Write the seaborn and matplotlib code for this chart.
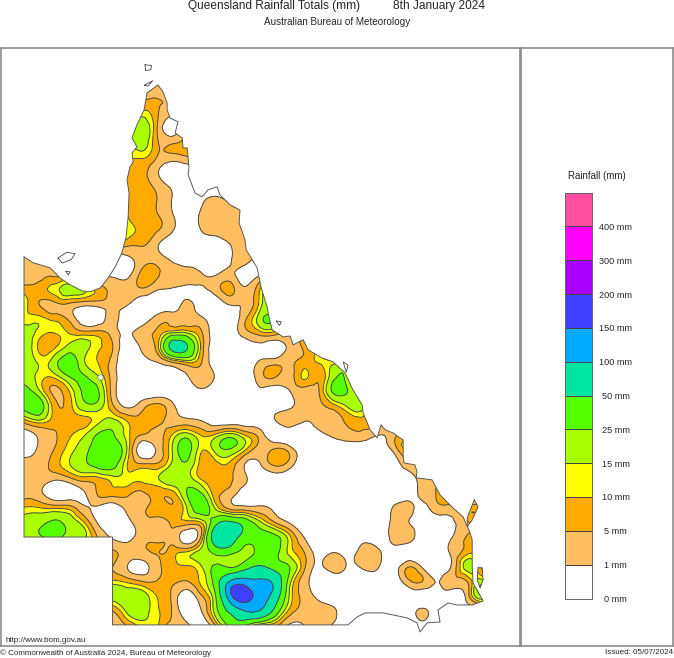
import numpy as np
import seaborn as sns
import matplotlib.pyplot as plt
import matplotlib.tri as mtri
from matplotlib.colors import ListedColormap
from matplotlib.path import Path
from matplotlib.patches import PathPatch

sns.set_style('white')
plt.rcParams['font.family'] = ['Liberation Sans', 'DejaVu Sans']

# rainfall classes
levels = [0, 1, 5, 10, 15, 25, 50, 100, 150, 200, 300, 400, 500]
colours = ['#ffffff', '#ffbe5f', '#ffaa00', '#ffff00', '#aaff00', '#55ff00',
           '#00e6a0', '#00aaff', '#3f3fff', '#aa00ff', '#ff00ff', '#ff4f9f']
legend_labels = ['400 mm', '300 mm', '200 mm', '150 mm', '100 mm', '50 mm', '25 mm',
                 '15 mm', '10 mm', '5 mm', '1 mm', '0 mm']

# grid of the analysis, half degree
grid_lon = [137.5 + 0.5 * i for i in range(34)]
grid_lat = [-10 - 0.5 * j for j in range(39)]

# mm, north to south, missing columns on the right are dry
rain_rows = [
    [0],
    [0, 0, 0, 0, 0, 0, 0, 0, 0, 2.5, 2.5, 2.5],
    [0, 0, 0, 0, 0, 0, 0, 0, 3, 4.5, 5, 4.5, 3],
    [0, 0, 0, 0, 0, 0, 0, 12, 12, 12, 6, 2, 2],
    [0, 0, 0, 0, 0, 0, 0, 20, 20, 20, 5.5, 0, 3, 3],
    [0, 0, 0, 0, 0, 0, 0, 20, 20, 20, 6, 4, 7, 7],
    [0, 0, 0, 0, 0, 0, 0, 12, 12, 11, 5, 3, 4.5, 3],
    [0, 0, 0, 0, 0, 0, 0, 7, 7, 6, 1.5],
    [0, 0, 0, 0, 0, 0, 0, 7, 7, 7, 3.5, 0.6],
    [0, 0, 0, 0, 0, 0, 0, 8, 8, 8, 5, 1, 0, 0.5, 2, 0.5],
    [0, 0, 0, 0, 0, 0, 0, 10, 10, 8, 5.5, 1.5, 0, 1.5, 3, 3, 3, 3],
    [0, 0, 0, 0, 0, 0, 0, 13, 13, 9, 5.5, 1.5, 0, 1, 2.5, 3, 3, 3],
    [0, 0, 0, 0, 0, 0, 0, 6, 6, 5.5, 1.5, 0, 0, 0, 0, 1, 3, 3],
    [3, 3, 3, 3, 3, 0, 0, 0, 0.3, 3, 3, 0.6, 0, 0, 0, 0.8, 3],
    [3, 3, 3, 4, 4, 3, 1, 0.3, 0.3, 7, 6, 3, 3, 1.2, 0.8, 2, 0, 0.5],
    [7, 7, 7, 12, 20, 18, 8, 4, 3, 4.5, 1.5, 0.8, 0.5, 0.5, 3, 7, 1.5, 10, 10],
    [12, 12, 5, 4, 5, 3, 3, 3, 1.5, 0, 0, 0, 1.7, 0, 0, 1.5, 1.5, 12, 12],
    [12, 12, 12, 8, 4, 0, 0, 2, 0, 0, 2, 3, 3, 1.5, 0, 0, 4, 20, 20],
    [20, 20, 13, 10, 10, 7, 7, 3, 0.5, 3, 6, 15, 15, 6, 0, 0, 3, 8, 8, 2, 3],
    [22, 22, 9, 9, 18, 20, 11, 5.2, 0, 1.5, 7, 60, 55, 9, 0, 0, 0, 0.3, 0, 2, 5.5, 5.5],
    [22, 22, 14, 19, 35, 17, 10, 3, 0, 0.3, 1, 5, 10.5, 5.5, 0, 0, 0, 1.5, 3, 4, 7, 10.5, 12, 12],
    [20, 20, 13, 11, 24, 27, 16, 3, 0, 0, 0, 0, 0.7, 3, 0.7, 0, 0, 3, 5.5, 3, 11, 6, 22, 18],
    [32, 32, 17, 4, 9, 27, 27, 3, 0, 0, 0, 0, 0, 0.5, 0, 0, 0, 0.5, 0, 0.9, 3, 5, 28, 24, 10],
    [32, 32, 35, 8, 7, 20, 20, 6, 0.5, 3, 7, 2, 0, 0, 0, 0, 0, 0, 0, 0.5, 3, 4, 8, 17, 17],
    [8, 8, 14, 8, 7, 8, 13, 17, 9.5, 7, 7, 3, 2, 1, 0, 0, 0, 0, 0.8, 3, 1.2, 3, 3.5, 6, 8, 3],
    [0, 0, 1.5, 4, 9, 14, 27, 27, 12, 4.5, 3.5, 10, 20, 10, 12, 20, 10, 3, 0, 0, 0, 0.3, 1.5, 3, 3, 1, 3, 5],
    [0, 0, 1.5, 5, 12, 20, 35, 35, 14, 0, 1.5, 14, 32, 11, 18, 23, 10, 3, 6, 3, 0, 0, 0, 0, 0, 0, 1.5, 9],
    [3, 3, 3, 7, 14, 22, 32, 32, 10, 6, 6, 16, 22, 8, 8, 8, 0.8, 0.8, 6, 2.5, 0, 0, 0, 0, 0, 0, 0, 3, 1],
    [3, 3, 3, 1.5, 3, 7, 8, 12, 12, 12, 14, 22, 20, 10, 7, 5.5, 1.5, 0, 0, 0, 0, 0, 0, 0, 0, 0, 0, 0, 3, 3],
    [3, 3, 2, 0, 0, 0.5, 5.5, 7, 6, 4, 6, 7, 24, 27, 7, 2.5, 0, 0, 0, 0, 0, 0, 0, 0, 0, 0, 0, 0, 2, 5.5, 5.5],
    [11, 11, 11, 10, 9, 2, 0.5, 0, 2, 4, 7, 6, 14, 35, 14, 4, 3, 2, 0.5, 0, 0, 0, 0, 0, 0, 0, 1.2, 2.5, 0.3, 3, 3, 7, 7],
    [20, 20, 22, 28, 22, 12, 0.9, 0, 0.2, 3, 3, 6, 7, 9, 42, 60, 38, 18, 6, 1, 0, 0, 0, 0, 0, 0, 1.5, 1.2, 0, 0, 0.6, 4, 5],
    [20, 20, 22, 28, 20, 17, 5, 0.8, 0.3, 3, 4, 4, 0, 6, 75, 75, 35, 30, 30, 12, 1, 0, 0, 0, 0.3, 0, 2.5, 3, 0, 0, 1, 5.5, 5],
    [6, 6, 6, 6, 6, 6, 6, 6, 3, 3.5, 5.2, 7, 11, 18, 30, 30, 21, 30, 30, 13, 5, 0.3, 1, 0.3, 2.8, 2, 0, 0, 0, 0, 1.5, 8, 8],
    [5, 5, 5, 5, 5, 5, 5, 5, 1, 0.2, 3.5, 8, 9, 14, 28, 24, 40, 55, 40, 25, 6, 0.6, 2.2, 0.7, 1.5, 1.2, 0, 4.8, 0.8, 0, 1.5, 18, 5],
    [12, 12, 12, 12, 12, 12, 12, 12, 9, 5.5, 5.3, 6, 4.5, 11, 35, 110, 125, 110, 85, 18, 2.5, 0, 0, 0, 0, 0, 0, 3, 4.8, 0.9, 3, 4.5, 20],
    [20, 20, 20, 20, 20, 20, 20, 20, 20, 20, 10, 4.5, 0, 4, 25, 135, 170, 130, 75, 14, 3.5, 0.3, 0, 0, 0, 0, 0, 0, 0, 0, 0, 2, 22],
    [5, 5, 5, 5, 5, 5, 5, 5, 17, 20, 11, 5, 0, 0.8, 20, 60, 100, 95, 40, 8, 3.5, 3, 1.5, 0, 0, 0, 0, 0, 1.8],
    [3, 3, 3, 3, 3, 3, 3, 3, 5, 12, 11, 3, 2, 0, 5, 30, 25, 8, 6, 0.5, 1, 3, 0.5],
]

# state outline
coast_lon = [138.00, 138.31, 138.88, 139.12, 139.22, 139.56, 139.97, 140.24, 140.58, 140.85, 141.09, 141.32,
             141.36, 141.46, 141.53, 141.56, 141.49, 141.59, 141.70, 141.66, 141.83, 141.66, 141.83, 142.07,
             142.17, 142.41, 142.54, 142.71, 142.85, 142.85, 142.95, 143.22, 143.12, 143.36, 143.39, 143.53,
             143.59, 143.56, 143.80, 144.03, 144.24, 144.54, 144.64, 144.98, 145.32, 145.29, 145.49, 145.53,
             145.90, 146.03, 146.24, 146.31, 146.41, 146.78, 147.02, 147.12, 147.46, 147.63, 148.10, 148.47,
             148.88, 149.15, 149.46, 149.49, 149.73, 149.97, 150.10, 150.24, 150.51, 150.85, 150.85, 150.88,
             151.25, 151.32, 151.29, 151.83, 152.10, 152.54, 152.88, 153.12, 153.19, 153.19, 153.22, 153.56,
             153.19, 152.68, 152.37, 152.03, 152.10, 151.66, 151.42, 151.32, 150.98, 150.17, 149.56, 149.29,
             148.98, 141.00, 141.00, 138.00, 138.00]
coast_lat = [-16.41, -16.61, -16.78, -17.02, -17.13, -17.36, -17.57, -17.60, -17.47, -17.13, -16.75, -16.27,
             -16.10, -15.73, -15.04, -14.23, -13.78, -13.34, -13.17, -12.86, -12.66, -12.35, -11.90, -11.39,
             -10.81, -10.64, -10.54, -10.78, -11.15, -11.39, -11.67, -11.80, -12.18, -12.35, -12.69, -12.69,
             -13.34, -13.61, -14.23, -14.36, -14.12, -14.02, -14.29, -14.63, -14.81, -15.25, -15.83, -16.17,
             -16.78, -17.43, -18.12, -18.49, -18.90, -19.14, -19.11, -19.41, -19.24, -19.58, -19.86, -19.99,
             -20.37, -20.95, -21.46, -21.73, -22.31, -22.59, -22.14, -22.31, -22.42, -22.66, -23.24, -23.44,
             -23.51, -23.75, -23.95, -24.02, -24.53, -24.98, -25.28, -25.83, -26.07, -27.00, -27.54, -28.15,
             -28.29, -28.29, -28.22, -28.46, -28.87, -28.90, -29.21, -28.90, -28.73, -28.56, -28.56, -28.70,
             -28.97, -28.97, -25.97, -25.97, -16.41]

# islands
island_lons = [[153.26, 153.39, 153.19, 153.02, 153.02, 153.26],
               [153.39, 153.53, 153.56, 153.46, 153.36, 153.39],
               [139.15, 139.45, 139.73, 139.60, 139.30, 139.15],
               [139.42, 139.56, 139.50, 139.42],
               [142.10, 142.32, 142.30, 142.12, 142.10],
               [142.08, 142.36, 142.20, 142.08],
               [146.55, 146.72, 146.66, 146.55],
               [148.82, 148.98, 148.92, 148.82]]
island_lats = [[-24.70, -24.94, -25.39, -25.62, -25.32, -24.70],
               [-27.02, -27.02, -27.43, -27.71, -27.43, -27.02],
               [-16.45, -16.25, -16.30, -16.50, -16.62, -16.45],
               [-16.90, -16.92, -17.02, -16.90],
               [-9.85, -9.88, -10.02, -10.05, -9.85],
               [-10.55, -10.40, -10.58, -10.55],
               [-18.60, -18.62, -18.75, -18.60],
               [-20.00, -20.10, -20.35, -20.00]]

# gap in the analysis south of Cloncurry
dot_lon = [140.58]
dot_lat = [-20.50]


def px_x(x):
    return x / 674


def px_y(y):
    return 1 - y / 658


rain = np.array([r + [0] * (len(grid_lon) - len(r)) for r in rain_rows], dtype=float)

fig = plt.figure(figsize=(6.74, 6.58), dpi=100)

ax = fig.add_axes([px_x(1), px_y(646), px_x(519), 598 / 658])

# smooth contours, matplotlib's refiner on the read grid, on a sqrt scale to keep it from ringing
lon2d, lat2d = np.meshgrid(grid_lon, grid_lat)
tri = mtri.Triangulation(lon2d.ravel(), lat2d.ravel())
fine_tri, fine_root = mtri.UniformTriRefiner(tri).refine_field(np.sqrt(rain.ravel()), subdiv=3)
root_levels = np.sqrt(levels)
filled = ax.tricontourf(fine_tri, fine_root, levels=root_levels, colors=colours, extend='min')
filled.cmap.set_under('white')
lines = ax.tricontour(fine_tri, fine_root, levels=root_levels[1:], colors='#4a4a4a', linewidths=0.7)

verts = list(zip(coast_lon, coast_lat))
codes = [Path.MOVETO] + [Path.LINETO] * (len(verts) - 2) + [Path.CLOSEPOLY]
for lo, la in zip(island_lons[:2], island_lats[:2]):
    verts += list(zip(lo, la))
    codes += [Path.MOVETO] + [Path.LINETO] * (len(lo) - 2) + [Path.CLOSEPOLY]
clip = PathPatch(Path(verts, codes), transform=ax.transData, facecolor='none', edgecolor='none')
ax.add_patch(clip)
filled.set_clip_path(clip)
lines.set_clip_path(clip)

sns.lineplot(x=coast_lon, y=coast_lat, sort=False, estimator=None, color='#5a5a5a', linewidth=0.7, ax=ax)
for lo, la in zip(island_lons, island_lats):
    sns.lineplot(x=lo, y=la, sort=False, estimator=None, color='#444444', linewidth=0.6, ax=ax)
sns.scatterplot(x=dot_lon, y=dot_lat, s=16, color='white', edgecolor='#777777', linewidth=0.6, ax=ax, zorder=5)

ax.set_xlim(137.22, 154.81)
ax.set_ylim(-29.69, -9.28)
ax.set_xticks([])
ax.set_yticks([])
for s in ax.spines.values():
    s.set_color('#8c8c8c')
    s.set_linewidth(1.2)

# legend panel
panel = fig.add_axes([px_x(521), px_y(646), px_x(152), 598 / 658])
panel.set_xticks([])
panel.set_yticks([])
for s in panel.spines.values():
    s.set_color('#8c8c8c')
    s.set_linewidth(1.2)

bar = fig.add_axes([px_x(565), px_y(598.5), px_x(27), 406 / 658])
sns.heatmap(np.arange(len(colours))[::-1].reshape(-1, 1), cmap=ListedColormap(colours), cbar=False,
            linewidths=0.5, linecolor='#444444', xticklabels=False, ax=bar)
bar.yaxis.tick_right()
bar.set_yticks(np.arange(1, len(colours) + 1))
bar.set_yticklabels(legend_labels, rotation=0, ha='center', fontsize=6.6)
bar.tick_params(axis='y', length=0, pad=17)
for s in bar.spines.values():
    s.set_visible(True)
    s.set_color('#666666')
    s.set_linewidth(0.7)

fig.text(px_x(597), px_y(176), 'Rainfall (mm)', ha='center', va='center', fontsize=7)
fig.text(px_x(188), px_y(5.5), 'Queensland Rainfall Totals (mm)', ha='left', va='center', fontsize=8.6)
fig.text(px_x(393), px_y(5.5), '8th January 2024', ha='left', va='center', fontsize=8.6)
fig.text(px_x(337), px_y(22), 'Australian Bureau of Meteorology', ha='center', va='center', fontsize=7.1)
fig.text(px_x(5), px_y(640), 'http://www.bom.gov.au', ha='left', va='center', fontsize=5.8)
fig.text(px_x(0), px_y(653), '\u00a9 Commonwealth of Australia 2024, Bureau of Meteorology', ha='left', va='center', fontsize=5.8)
fig.text(px_x(673), px_y(653), 'Issued: 05/07/2024', ha='right', va='center', fontsize=5.8)

fig.savefig('out.png', dpi=100)
